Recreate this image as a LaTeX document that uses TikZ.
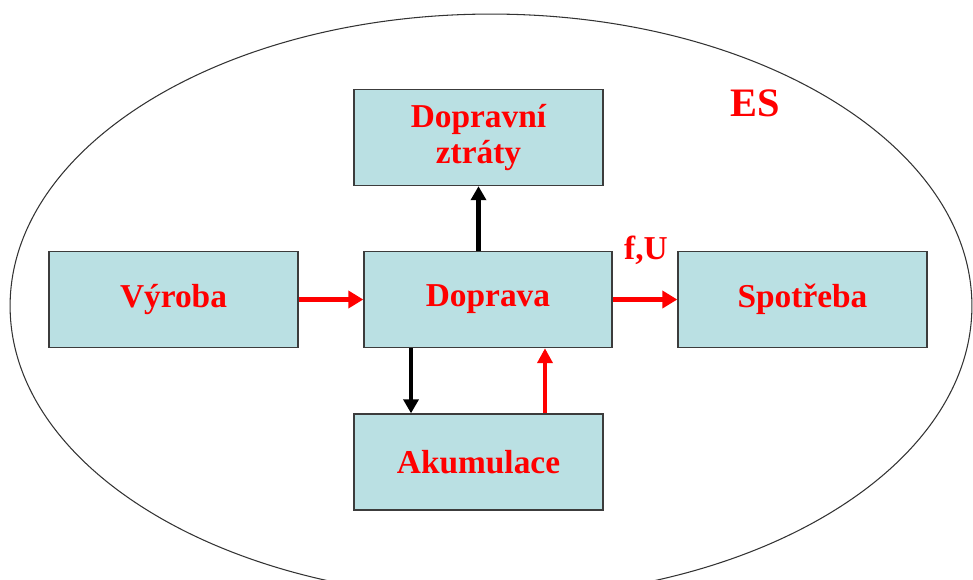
\documentclass[tikz,border=0pt]{standalone}
\usepackage{fontspec}
\setmainfont{Liberation Serif}
\usepackage{tikz}
\usetikzlibrary{arrows.meta, calc}

\definecolor{boxfill}{RGB}{186,224,227}
\definecolor{boxline}{RGB}{60,60,60}

\tikzset{
  blok/.style={draw=boxline, line width=0.8pt, fill=boxfill, minimum width=4.98cm,
    minimum height=1.92cm, align=center, text=red, font=\fontsize{19}{20}\selectfont\bfseries},
  tok/.style={red, line width=3pt, -{Triangle[length=0.3cm, width=0.34cm]}},
  ztrata/.style={black, line width=2.6pt, -{Triangle[length=0.28cm, width=0.3cm]}},
  vratka/.style={red, line width=2.6pt, -{Triangle[length=0.3cm, width=0.3cm]}},
}

\begin{document}
\begin{tikzpicture}[x=0.02cm, y=-0.02cm]
  \useasboundingbox (0,0) rectangle (973,579);
  \clip (0,0) rectangle (973,579);
  \draw[black!80, line width=0.6pt] (491,306) ellipse [x radius=9.62cm, y radius=5.84cm];

  \node[blok] (ztraty) at (478.5,137.5) {Dopravní\\ztráty};
  \node[blok] (vyroba) at (173.5,299.5) {Výroba};
  \node[blok, minimum width=4.96cm] (doprava) at (488,299.5) {Doprava};
  \node[blok] (spotreba) at (802.5,299.5) {Spotřeba};
  \node[blok] (akumulace) at (478.5,462) {Akumulace};

  \node[text=red, font=\fontsize{23}{24}\selectfont\bfseries] (es) at (755,103) {ES};
  \node[text=red, font=\fontsize{19}{20}\selectfont\bfseries] (fu) at (646,250) {f,U};

  \draw[tok] (vyroba.east) -- (doprava.west);
  \draw[tok] (doprava.east) -- (spotreba.west);
  \draw[ztrata] (doprava.north -| ztraty) -- (ztraty.south);
  \draw[ztrata] ([xshift=-1.54cm]doprava.south) -- ([xshift=-1.54cm]doprava.south |- akumulace.north);
  \draw[vratka] ([xshift=1.33cm]akumulace.north) -- ([xshift=1.33cm]akumulace.north |- doprava.south);
\end{tikzpicture}
\end{document}
